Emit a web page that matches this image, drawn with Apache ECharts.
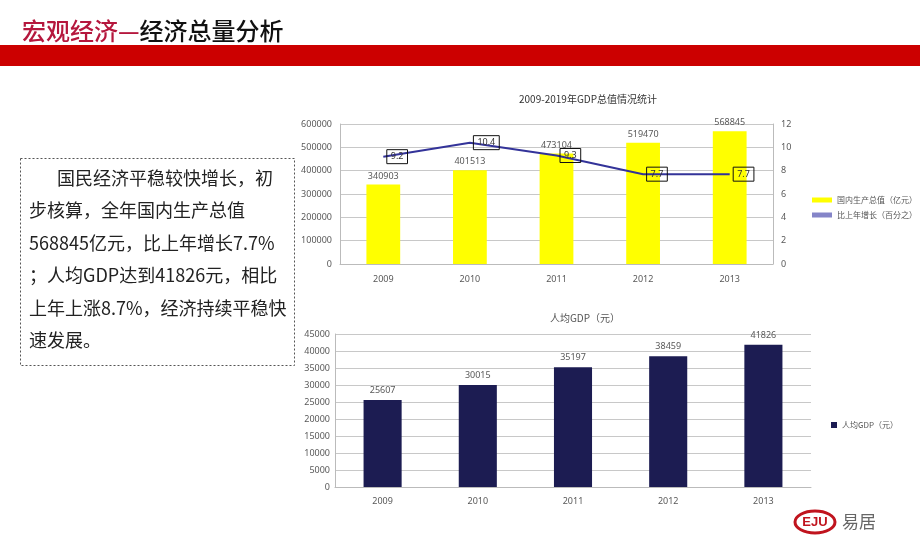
<!DOCTYPE html>
<html><head><meta charset="utf-8">
<script src="https://cdn.jsdelivr.net/npm/echarts@6/dist/echarts.min.js"></script>
<style>html,body{margin:0;padding:0;background:#fff}#c{width:920px;height:547px}</style>
</head><body><div id="c"></div>
<script>
const years = ['2009','2010','2011','2012','2013'];
const gdpTotal = [340903, 401513, 473104, 519470, 568845];
const growth = [9.2, 10.4, 9.3, 7.7, 7.7];
const perCapita = [25607, 30015, 35197, 38459, 41826];
const textLines = ['国民经济平稳较快增长，初','步核算，全年国内生产总值','568845亿元，比上年增长7.7%','；人均GDP达到41826元，相比','上年上涨8.7%，经济持续平稳快','速发展。'];

const F = '"Noto Sans", "Noto Sans CJK SC", sans-serif';
const CJK = '"Noto Sans CJK SC", sans-serif';
const lbl = {color:'#595959', fontSize:9, fontFamily:F, formatter:v=>String(v)};
const grid = {lineStyle:{color:'#c8c8c8', width:1}};

const chart = echarts.init(document.getElementById('c'), null, {renderer:'canvas'});
const graphics = [
  {type:'rect', shape:{x:0,y:45,width:920,height:21}, style:{fill:'#cc0000'}},
  {type:'text', left:22, top:19, style:{text:'{a|宏观经济—}{b|经济总量分析}', rich:{
    a:{fill:'#b5173d', fontSize:24, fontWeight:500, fontFamily:CJK},
    b:{fill:'#111', fontSize:24, fontWeight:500, fontFamily:CJK}}}},
  {type:'rect', shape:{x:20.5,y:158.5,width:274,height:207}, style:{fill:'none', stroke:'#555', lineWidth:1, lineDash:[2,2]}},
  {type:'ellipse', shape:{cx:815, cy:522, rx:20, ry:11}, style:{fill:'#fff', stroke:'#c0141e', lineWidth:3}},
  {type:'text', x:815, y:522, style:{text:'EJU', fill:'#c0141e', fontSize:13, fontWeight:'bold', fontFamily:'"Liberation Sans", sans-serif', align:'center', verticalAlign:'middle'}},
  {type:'text', x:842, y:522, style:{text:'易居', fill:'#666', fontSize:17, fontFamily:CJK, verticalAlign:'middle'}}
];
textLines.forEach((t,i)=>{
  graphics.push({type:'text', x: i===0 ? 57 : 29, y: 178 + i*32.5, style:{text:t, fill:'#222', fontSize:18, fontFamily:CJK, verticalAlign:'middle'}});
});

chart.setOption({
  animation:false,
  title:[
    {text:'2009-2019年GDP总值情况统计', left:583, top:89, textAlign:'center', textStyle:{fontSize:10, fontWeight:'normal', color:'#333', fontFamily:CJK}},
    {text:'人均GDP（元）', left:580, top:308, textAlign:'center', textStyle:{fontSize:10, fontWeight:'normal', color:'#555', fontFamily:CJK}}
  ],
  legend:[
    {left:807, top:191, orient:'vertical', itemGap:7, itemWidth:20, itemHeight:5,
     textStyle:{fontSize:8, color:'#555', fontFamily:CJK},
     data:[{name:'国内生产总值（亿元）', icon:'rect'},{name:'比上年增长（百分之）', icon:'rect', itemStyle:{color:'#8585c8', opacity:1}}]},
    {left:826, top:416, itemWidth:6, itemHeight:6,
     textStyle:{fontSize:8, color:'#555', fontFamily:CJK},
     data:[{name:'人均GDP（元）', icon:'rect'}]}
  ],
  grid:[
    {left:340, right:147, top:124, height:140},
    {left:335, right:109, top:334, height:153}
  ],
  xAxis:[
    {type:'category', gridIndex:0, data:years, axisTick:{show:false}, axisLine:{lineStyle:{color:'#bbb'}}, axisLabel:Object.assign({}, lbl, {margin:11})},
    {type:'category', gridIndex:1, data:years, axisTick:{show:false}, axisLine:{lineStyle:{color:'#bbb'}}, axisLabel:Object.assign({}, lbl, {margin:10})}
  ],
  yAxis:[
    {type:'value', gridIndex:0, min:0, max:600000, interval:100000, axisLine:{show:true, lineStyle:{color:'#bbb'}}, axisTick:{show:false}, axisLabel:Object.assign({}, lbl, {margin:8}), splitLine:grid},
    {type:'value', gridIndex:0, position:'right', min:0, max:12, interval:2, axisLine:{show:true, lineStyle:{color:'#bbb'}}, axisTick:{show:false}, axisLabel:Object.assign({}, lbl, {margin:8}), splitLine:{show:false}},
    {type:'value', gridIndex:1, min:0, max:45000, interval:5000, axisLine:{show:true, lineStyle:{color:'#bbb'}}, axisTick:{show:false}, axisLabel:Object.assign({}, lbl, {margin:5}), splitLine:grid}
  ],
  series:[
    {name:'国内生产总值（亿元）', type:'bar', xAxisIndex:0, yAxisIndex:0, data:gdpTotal, barWidth:'39%', itemStyle:{color:'#ffff00'},
     label:{show:true, position:'top', distance:4, color:'#595959', fontSize:9, fontFamily:F}},
    {name:'比上年增长（百分之）', type:'line', xAxisIndex:0, yAxisIndex:1, data:growth, showSymbol:true, symbol:'circle', symbolSize:1, lineStyle:{color:'#333399', width:2}, itemStyle:{color:'#333399', opacity:0},
     label:{show:true, position:'right', distance:3, color:'#333', fontSize:9, fontFamily:F, borderColor:'#111', borderWidth:1, padding:[3,4,2,4], opacity:1}},
    {name:'人均GDP（元）', type:'bar', xAxisIndex:1, yAxisIndex:2, data:perCapita, barWidth:'40%', itemStyle:{color:'#1c1c52'},
     label:{show:true, position:'top', distance:5, color:'#595959', fontSize:9, fontFamily:F}}
  ],
  graphic:graphics
});
</script></body></html>
